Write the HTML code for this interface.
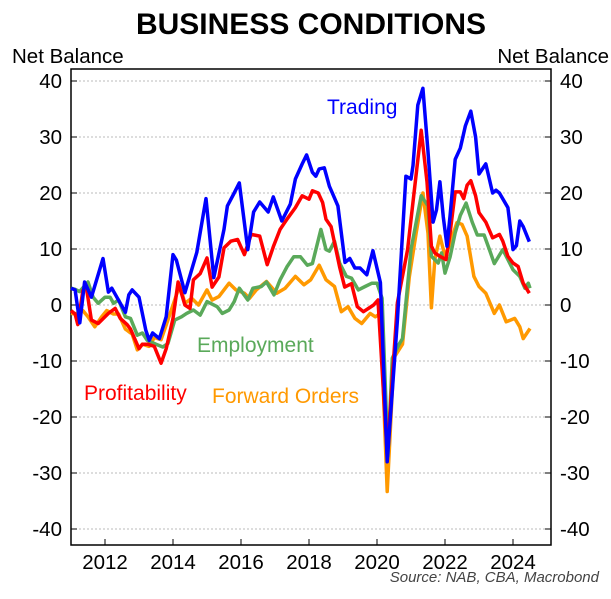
<!DOCTYPE html>
<html><head><meta charset="utf-8"><style>
body{margin:0;background:#fff;width:611px;height:594px;overflow:hidden}
text{font-family:"Liberation Sans",Arial,sans-serif}
</style></head><body>
<svg id="chart" width="611" height="594" xmlns="http://www.w3.org/2000/svg">
<text x="311" y="34" text-anchor="middle" font-size="30" font-weight="bold">BUSINESS CONDITIONS</text>
<text x="12" y="63" font-size="20.5">Net Balance</text>
<text x="609" y="63" text-anchor="end" font-size="20.5">Net Balance</text>
<g id="grid"></g>
<g id="axes"></g>
<g id="series"></g>
<text x="327" y="114" font-size="21" fill="#0000ff">Trading</text>
<text x="197" y="352" font-size="21" fill="#5aa95a">Employment</text>
<text x="84" y="400" font-size="21" fill="#ff0000">Profitability</text>
<text x="212" y="403" font-size="21" fill="#ff9900">Forward Orders</text>
<text x="599" y="582" text-anchor="end" font-size="15" font-style="italic" fill="#444">Source: NAB, CBA, Macrobond</text>
</svg>
<script>
const yTicks=[40,30,20,10,0,-10,-20,-30,-40];
const xTicks=[2012,2014,2016,2018,2020,2022,2024];
const trading=[[2011.0,3],[2011.12,2.7],[2011.26,-3.2],[2011.4,4.1],[2011.6,1.4],[2011.94,8.3],[2012.1,2.3],[2012.2,3],[2012.6,-1.3],[2012.7,1.8],[2012.8,2.7],[2013.0,1.4],[2013.2,-4.5],[2013.3,-6.3],[2013.4,-5],[2013.6,-6],[2013.8,-2.1],[2014.0,9],[2014.1,8],[2014.35,2.2],[2014.7,9.4],[2014.97,19],[2015.2,4.9],[2015.5,13.5],[2015.6,17.7],[2015.8,20],[2015.95,21.8],[2016.2,9.9],[2016.37,16.6],[2016.55,18.4],[2016.8,16.6],[2016.95,19.3],[2017.2,15],[2017.45,18],[2017.6,22.5],[2017.8,25.2],[2017.93,26.8],[2018.1,23.7],[2018.2,23],[2018.3,24.3],[2018.45,24.5],[2018.6,21.2],[2018.7,19.8],[2018.85,17.7],[2019.06,7.6],[2019.2,8.3],[2019.35,6.6],[2019.5,6.6],[2019.7,5.4],[2019.88,9.7],[2020.1,4],[2020.3,-28],[2020.6,-2.7],[2020.85,23],[2021.0,22.5],[2021.06,24.9],[2021.2,35.7],[2021.35,38.7],[2021.5,27.4],[2021.65,14.8],[2021.75,17],[2021.85,22],[2021.95,15.7],[2022.06,10.5],[2022.15,16],[2022.3,26],[2022.45,28],[2022.6,32],[2022.76,34.6],[2022.9,30],[2023.0,23.4],[2023.2,25.2],[2023.4,20],[2023.5,20.5],[2023.6,20],[2023.85,17.4],[2024.0,9.9],[2024.1,10.6],[2024.2,15],[2024.3,14],[2024.48,11.3]];
const profitability=[[2011.0,-1],[2011.12,-1.6],[2011.2,-3.5],[2011.35,2.6],[2011.45,3.2],[2011.6,-2.7],[2011.8,-3.3],[2012.0,-2.1],[2012.1,-1.5],[2012.3,-0.6],[2012.45,-2.4],[2012.65,-3.5],[2012.75,-4.3],[2013.0,-7.8],[2013.1,-7],[2013.26,-7],[2013.45,-7.4],[2013.65,-10.4],[2013.8,-7.8],[2014.0,-2.4],[2014.15,4.1],[2014.35,0],[2014.5,-0.6],[2014.6,4.5],[2014.8,5.6],[2015.0,8.4],[2015.15,3.2],[2015.35,5],[2015.5,10.2],[2015.7,11.4],[2015.9,11.7],[2016.1,9],[2016.3,12.6],[2016.55,12.3],[2016.77,7.2],[2016.95,10.4],[2017.15,13.5],[2017.35,15.3],[2017.6,17.4],[2017.8,19.5],[2018.0,18.9],[2018.1,20.4],[2018.27,20],[2018.4,18.3],[2018.5,15.3],[2018.65,14],[2018.9,6.8],[2019.05,3.2],[2019.25,3.8],[2019.42,-0.3],[2019.6,-1.2],[2019.75,-0.6],[2019.9,0],[2020.03,0.9],[2020.3,-26.7],[2020.6,0.4],[2020.9,9.9],[2021.06,18.4],[2021.3,31.2],[2021.47,22],[2021.6,10.5],[2021.7,9.3],[2021.85,8.7],[2022.03,8.1],[2022.15,12.9],[2022.3,20.2],[2022.45,20.2],[2022.55,19],[2022.65,21.4],[2022.76,22.2],[2022.9,19.5],[2023.0,16.5],[2023.2,14.8],[2023.4,12],[2023.6,12.6],[2023.7,11.4],[2023.85,8.7],[2024.0,7.5],[2024.15,6.9],[2024.3,3.9],[2024.48,2.1]];
const employment=[[2011.0,3],[2011.12,2.8],[2011.25,2.4],[2011.5,4.1],[2011.65,1.4],[2011.8,0.3],[2012.0,1.4],[2012.15,1.4],[2012.25,0.3],[2012.4,0.9],[2012.6,-2.1],[2012.75,-2.4],[2012.95,-5.4],[2013.1,-5],[2013.24,-6.3],[2013.5,-7],[2013.7,-7.5],[2013.85,-6.9],[2014.05,-2.7],[2014.25,-2.1],[2014.4,-1.5],[2014.6,-0.9],[2014.8,-1.8],[2015.0,0.6],[2015.3,-0.3],[2015.45,-1.5],[2015.65,-0.9],[2015.8,0.6],[2015.95,3],[2016.2,0.9],[2016.35,3],[2016.6,3.3],[2016.75,4.1],[2016.97,1.8],[2017.15,4.5],[2017.35,6.8],[2017.55,8.6],[2017.75,8.6],[2017.95,7.1],[2018.1,7.4],[2018.35,13.5],[2018.5,9.9],[2018.6,9.6],[2018.75,11.4],[2018.9,7.5],[2019.1,5.1],[2019.25,4.8],[2019.45,2.7],[2019.65,3.3],[2019.85,3.9],[2020.0,3.9],[2020.15,1.2],[2020.32,-27],[2020.45,-9.5],[2020.65,-7],[2020.75,-6],[2021.0,9.9],[2021.3,19.5],[2021.5,17.7],[2021.6,8.7],[2021.8,7.5],[2021.9,9.3],[2022.0,5.7],[2022.15,8.6],[2022.3,12.9],[2022.45,16],[2022.62,18.2],[2022.8,14.8],[2022.95,12.5],[2023.15,12.5],[2023.3,10],[2023.45,7.4],[2023.7,9.9],[2023.85,8.1],[2024.0,6.3],[2024.2,5.1],[2024.35,3],[2024.45,3.9],[2024.5,3]];
const forwardOrders=[[2011.0,-1.5],[2011.12,-1.6],[2011.35,-1],[2011.5,-2.1],[2011.7,-3.9],[2011.9,-2.1],[2012.05,-1],[2012.25,-1.6],[2012.4,-1.6],[2012.6,-4.3],[2012.8,-5.2],[2012.95,-8],[2013.1,-7],[2013.3,-7.4],[2013.45,-5.8],[2013.65,-6.2],[2013.85,-2.7],[2014.05,0.9],[2014.2,3.6],[2014.35,0.3],[2014.55,1.2],[2014.75,0],[2015.0,2.7],[2015.15,0.9],[2015.35,1.5],[2015.65,3.9],[2015.85,2.7],[2016.1,2.1],[2016.25,1.2],[2016.45,2.7],[2016.75,4.2],[2017.05,2.1],[2017.3,3],[2017.6,5.1],[2017.85,3.6],[2018.05,4.5],[2018.3,7.1],[2018.5,4.5],[2018.75,3.3],[2018.95,-1.2],[2019.15,-0.3],[2019.35,-2.4],[2019.55,-3.3],[2019.8,-1.5],[2019.95,-2.1],[2020.1,-1.5],[2020.3,-33.3],[2020.5,-9.4],[2020.75,-7],[2020.95,5],[2021.15,12.8],[2021.35,20],[2021.5,12.8],[2021.6,-0.5],[2021.7,8.1],[2021.85,12.3],[2022.0,8.7],[2022.15,11],[2022.35,14.7],[2022.5,14.4],[2022.65,12.3],[2022.85,5.1],[2023.0,3.3],[2023.2,2.1],[2023.45,-1.5],[2023.6,0],[2023.8,-3],[2024.05,-2.4],[2024.2,-3.9],[2024.3,-6],[2024.5,-4.2]];

const L=71,R=551,T=69,B=545;
const xS=yr=>105+(yr-2012)*34;
const yS=v=>305-v*5.6;
const NS='http://www.w3.org/2000/svg';
function mk(tag,attrs,parent){const e=document.createElementNS(NS,tag);for(const k in attrs)e.setAttribute(k,attrs[k]);parent.appendChild(e);return e;}
const grid=document.getElementById('grid'),axes=document.getElementById('axes'),series=document.getElementById('series');
yTicks.forEach(v=>{
  const g=mk('line',{x1:L,x2:R,y1:yS(v),y2:yS(v),stroke:'#bbb','stroke-width':1,'stroke-dasharray':'2,2'},grid);
  
  
  const t1=mk('line',{x1:L,x2:L+6,y1:yS(v),y2:yS(v),stroke:'#000'},axes);
  
  
  const t2=mk('line',{x1:R-6,x2:R,y1:yS(v),y2:yS(v),stroke:'#000'},axes);
  
  
  const a=mk('text',{x:62,y:yS(v)+7,'text-anchor':'end','font-size':20.5},axes);a.textContent=v;
  
  
  const b=mk('text',{x:560,y:yS(v)+7,'font-size':20.5},axes);b.textContent=v;
  
  
});
xTicks.forEach(yr=>{
  const t=mk('line',{x1:xS(yr),x2:xS(yr),y1:B-6,y2:B,stroke:'#000'},axes);
  
  
  const l=mk('text',{x:xS(yr),y:569,'text-anchor':'middle','font-size':20.5},axes);l.textContent=yr;
  
  
});
const fr=mk('rect',{x:L,y:T,width:R-L,height:B-T,fill:'none',stroke:'#000','stroke-width':1.5},axes);


function line(data,color,name){
  const p=mk('polyline',{points:data.map(d=>xS(d[0]).toFixed(1)+','+yS(d[1]).toFixed(1)).join(' '),fill:'none',stroke:color,'stroke-width':3.5,'stroke-linejoin':'round'},series);
  
  
}
line(forwardOrders,'#ff9900','forward-orders-line');
line(employment,'#5aa95a','employment-line');
line(profitability,'#ff0000','profitability-line');
line(trading,'#0000ff','trading-line');
</script>
</body></html>
